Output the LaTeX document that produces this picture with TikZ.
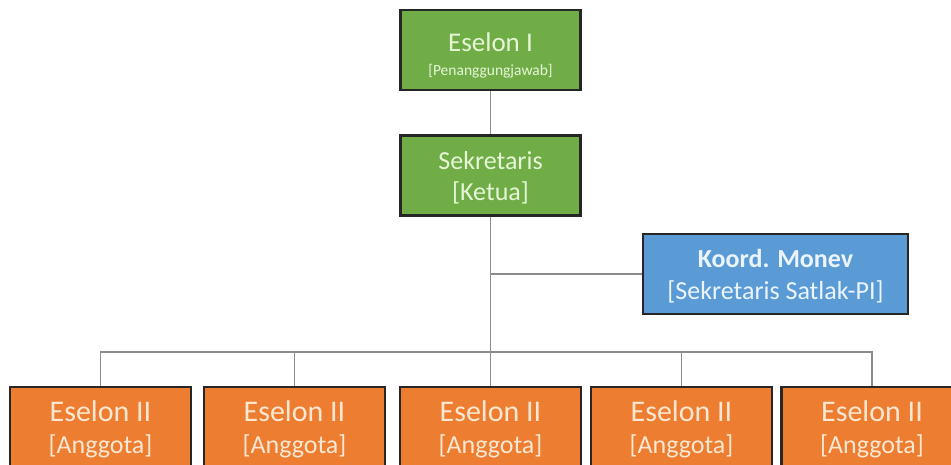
\documentclass[tikz,border=0pt]{standalone}
\usepackage{fontspec}
\setmainfont{Carlito}
\definecolor{grn}{RGB}{112,173,71}
\definecolor{blu}{RGB}{91,155,213}
\definecolor{org}{RGB}{237,125,49}
\definecolor{conn}{RGB}{140,140,140}
\definecolor{gtxt}{RGB}{230,245,215}
\definecolor{otxt}{RGB}{252,232,210}
\definecolor{btxt}{RGB}{235,244,252}
\tikzset{
  box/.style={draw=black!85, line width=2.5pt, inner sep=0pt, rectangle},
  greenbox/.style={box, fill=grn, minimum width=180pt, minimum height=80pt},
  bluebox/.style={box, fill=blu, minimum width=265pt, minimum height=80pt},
  orangebox/.style={box, fill=org, minimum width=181pt, minimum height=104pt},
  conline/.style={draw=conn, line width=1.6pt},
  big/.style={font=\fontsize{26}{28}\selectfont},
  huge/.style={font=\fontsize{30}{32}\selectfont},
  tiny/.style={font=\fontsize{15.5}{17}\selectfont},
}
\begin{document}
\begin{tikzpicture}[x=1pt,y=-1pt]
\useasboundingbox (0,0) rectangle (951,464);
\clip (0,0) rectangle (951,464);
\fill[white] (0,0) rectangle (951,464);
% boxes
\node[greenbox] (e1) at (490.5,50) {};
\node[greenbox] (sek) at (490.5,175.5) {};
\node[bluebox] (koord) at (775.5,274) {};
\node[orangebox] (a1) at (100.5,439) {};
\node[orangebox] (a2) at (294.5,439) {};
\node[orangebox] (a3) at (490.5,439) {};
\node[orangebox] (a4) at (681.5,439) {};
\node[orangebox] (a5) at (872,439) {};
% texts
\node[big, text=gtxt, inner sep=0pt, font=\fontsize{27}{29}\selectfont] (e1t) at (490.5,42) {Eselon I};
\node[tiny, text=gtxt, inner sep=0pt] (e1s) at (490.5,71) {[Penanggungjawab]};
\node[big, text=gtxt, inner sep=0pt] (sekt) at (490.5,161) {Sekretaris};
\node[big, text=gtxt, inner sep=0pt] (seks) at (490.5,193) {[Ketua]};
\node[big, text=btxt, inner sep=0pt, font=\fontsize{26}{28}\selectfont\bfseries] (kt) at (775.5,258) {Koord. Monev};
\node[big, text=btxt, inner sep=0pt] (ks) at (775.5,292) {[Sekretaris Satlak-PI]};
\foreach \n/\x in {1/100.5,2/294.5,3/490.5,4/681.5,5/872}{
  \node[huge, text=otxt, inner sep=0pt] (a\n t) at (\x,411) {Eselon II};
  \node[big, text=otxt, inner sep=0pt] (a\n s) at (\x,446) {[Anggota]};
}
% connectors
\coordinate (bus) at (490.5,352);
\draw[conline] (e1.south) -- (sek.north);
\draw[conline] (sek.south) -- (bus);
\draw[conline] (sek.south |- koord.west) -- (koord.west);
\draw[conline] (a1.north) -- (a1.north |- bus) -- (a5.north |- bus) -- (a5.north);
\draw[conline] (a2.north) -- (a2.north |- bus);
\draw[conline] (a3.north) -- (a3.north |- bus);
\draw[conline] (a4.north) -- (a4.north |- bus);
\end{tikzpicture}
\end{document}
